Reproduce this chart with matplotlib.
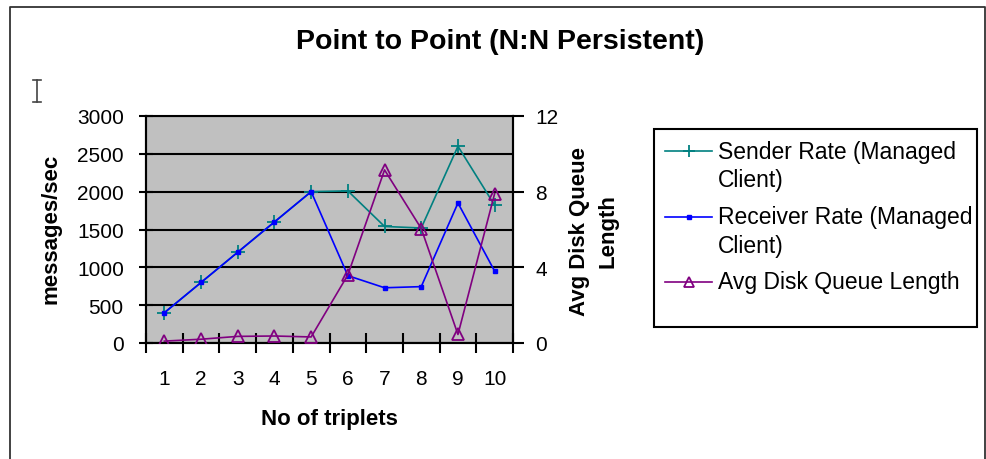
import matplotlib
matplotlib.use("Agg")
import matplotlib.pyplot as plt
from matplotlib.lines import Line2D
from matplotlib.patches import Rectangle
import numpy as np

plt.rcParams['font.family'] = ['Liberation Sans', 'DejaVu Sans']

triplets = [1, 2, 3, 4, 5, 6, 7, 8, 9, 10]
sender_rate = [400, 800, 1200, 1600, 2000, 2010, 1540, 1520, 2600, 1820]
receiver_rate = [400, 800, 1200, 1600, 2000, 890, 730, 745, 1850, 950]
disk_queue = [0.1, 0.2, 0.35, 0.37, 0.32, 3.6, 9.15, 6.05, 0.45, 7.9]
series_names = ['Sender Rate (Managed\nClient)',
                'Receiver Rate (Managed\nClient)',
                'Avg Disk Queue Length']

W, H = 986, 460
fig = plt.figure(figsize=(W / 100, H / 100), dpi=100)
fig.patch.set_facecolor('white')


def fx(px):
    return px / W


def fy(py):
    return 1 - py / H


# outer chart frame (open at the bottom)
fig.add_artist(Line2D([fx(10), fx(10), fx(985), fx(985)],
                      [fy(470), fy(8), fy(8), fy(470)],
                      transform=fig.transFigure, color='#333333', lw=1.3))

# text cursor glyph
fig.add_artist(Line2D([fx(37), fx(37)], [fy(81), fy(103)],
                      transform=fig.transFigure, color='#444444', lw=1.2))
for yy in (81, 103):
    fig.add_artist(Line2D([fx(33), fx(41)], [fy(yy), fy(yy)],
                          transform=fig.transFigure, color='#444444', lw=1.2))

left, right, top, bottom = 146, 513, 117, 344
ax = fig.add_axes([fx(left), fy(bottom), fx(right - left), (bottom - top) / H])
ax.set_facecolor('#C0C0C0')
ax2 = ax.twinx()

styles = [
    dict(color='#008080', lw=1.2, marker='+', ms=10, mew=1.3),
    dict(color='#0000FF', lw=1.2, marker='s', ms=3.5),
    dict(color='#800080', lw=1.2, marker='^', ms=8.5, mfc='none',
         mec='#800080', mew=1.3),
]

x = np.array(triplets)
ax.plot(x, sender_rate, zorder=3, **styles[0])
ax.plot(x, receiver_rate, zorder=4, **styles[1])
ax2.plot(x, disk_queue, zorder=3, **styles[2])

ax.set_xlim(0.5, 10.5)
ax.set_ylim(0, 3000)
ax2.set_ylim(0, 12)

ax.set_yticks(np.arange(0, 3001, 500))
ax.grid(axis='y', color='black', lw=1.5)
ax.set_axisbelow(True)
ax.set_xticks(np.arange(0.5, 11, 1))
ax.set_xticks(x, minor=True)
ax.set_xticklabels([])
ax.set_xticklabels([str(t) for t in triplets], minor=True)
ax.tick_params(axis='x', which='major', direction='inout', length=14,
               width=1.5, color='black')
ax.tick_params(axis='x', which='minor', length=0, pad=19, labelsize=15)
ax.tick_params(axis='y', direction='inout', length=10, width=1.5,
               pad=11, labelsize=15)
ax2.set_yticks([0, 4, 8, 12])
ax2.tick_params(axis='y', direction='out', length=8, width=1.5, pad=8,
                labelsize=15)

for a in (ax, ax2):
    for s in a.spines.values():
        s.set_color('black')
        s.set_linewidth(1.5)
ax2.spines['top'].set_visible(False)

fig.text(fx(329), fy(420), 'No of triplets', ha='center', va='center',
         fontsize=16, fontweight='bold')
fig.text(fx(51), fy(229), 'messages/sec', ha='center', va='center',
         rotation=90, fontsize=16, fontweight='bold')
fig.text(fx(594), fy(231), 'Avg Disk Queue\nLength', ha='center',
         va='center', rotation=90, fontsize=16, fontweight='bold',
         linespacing=1.45)
fig.text(fx(500), fy(42), 'Point to Point (N:N Persistent)', ha='center',
         va='center', fontsize=20.5, fontweight='bold')

# legend: frame, sample lines and wrapped labels
fig.add_artist(Rectangle((fx(654), fy(328)), fx(977 - 654), (328 - 130) / H,
                         transform=fig.transFigure, fill=False,
                         edgecolor='black', lw=1.5))
entry_rows = [152, 218, 283]
for name, style, row in zip(series_names, styles, entry_rows):
    st = dict(style)
    st['ms'] = st['ms'] * 0.85
    fig.add_artist(Line2D([fx(665), fx(712)], [fy(row), fy(row)],
                          transform=fig.transFigure, markevery=[],
                          **{k: v for k, v in st.items() if k != 'marker'}))
    fig.add_artist(Line2D([fx(688.5)], [fy(row)], transform=fig.transFigure,
                          ls='none', **st))
    fig.text(fx(718), fy(row), name.split('\n')[0], ha='left', va='center',
             fontsize=16.5)
    if '\n' in name:
        fig.text(fx(718), fy(row + 29), name.split('\n')[1], ha='left',
                 va='center', fontsize=16.5)

fig.savefig('out.png', dpi=100)
